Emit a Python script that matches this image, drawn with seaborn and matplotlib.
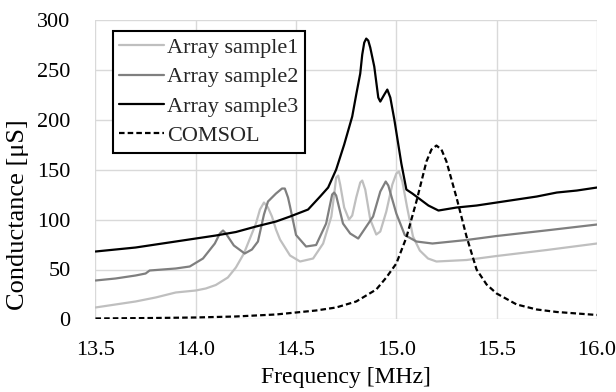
import numpy as np
import pandas as pd
import matplotlib
matplotlib.use("Agg")
import matplotlib.pyplot as plt
import seaborn as sns

# values
f1 = [13.5, 13.6, 13.7, 13.8, 13.9, 14.0, 14.05, 14.1, 14.16, 14.2, 14.24, 14.3, 14.32, 14.34,
      14.36, 14.38, 14.4, 14.42, 14.47, 14.52, 14.585, 14.635, 14.676, 14.69, 14.7, 14.71, 14.72,
      14.74, 14.764, 14.78, 14.8, 14.82, 14.83, 14.845, 14.87, 14.9, 14.92, 14.95, 14.98, 15.0,
      15.013, 15.03, 15.053, 15.083, 15.117, 15.158, 15.2, 15.35, 15.5, 15.75, 16.0]
g1 = [12, 15, 18, 22, 27, 29, 31, 34.5, 42, 52, 66, 96, 110, 117,
      112, 103, 90, 80, 64, 58, 61, 76, 103, 125, 142, 144, 135,
      112, 100, 104, 122, 137, 139, 130, 100, 85, 88, 108, 135, 146,
      148, 138, 113, 83, 69, 61, 58, 59.5, 63.5, 69.5, 76]

f2 = [13.5, 13.6, 13.7, 13.75, 13.77, 13.9, 13.97, 14.036, 14.095, 14.12, 14.136, 14.15, 14.19,
      14.244, 14.28, 14.31, 14.34, 14.36, 14.4, 14.43, 14.444, 14.46, 14.47, 14.5, 14.55, 14.6,
      14.65, 14.68, 14.69, 14.7, 14.734, 14.77, 14.81, 14.884, 14.92, 14.947, 14.96, 14.98, 15.0,
      15.042, 15.1, 15.18, 15.35, 15.5, 15.765, 16.0]
g2 = [39, 41, 44, 46, 49, 51, 53, 61, 76, 86, 89, 86, 74,
      66, 70, 78, 105, 118, 126, 131, 131, 122, 113, 84.5, 73, 74.5,
      96, 125, 127, 124, 96, 86, 81, 103, 128, 138, 134, 120, 106,
      84.5, 78, 76, 79.5, 83.5, 89.5, 95]

f3 = [13.5, 13.6, 13.7, 13.8, 13.9, 14.0, 14.1, 14.2, 14.3, 14.4, 14.47, 14.56, 14.62, 14.66,
      14.7, 14.74, 14.78, 14.8, 14.82, 14.83, 14.84, 14.85, 14.86, 14.87, 14.89, 14.91, 14.92,
      14.94, 14.955, 14.97, 14.99, 15.025, 15.05, 15.08, 15.12, 15.16, 15.21, 15.3, 15.4, 15.5,
      15.6, 15.7, 15.8, 15.9, 16.0]
g3 = [68, 70, 72, 75, 78, 81, 84, 87.5, 93, 98, 103, 110, 123, 132,
      150, 175, 203, 225, 246, 265, 277, 281, 279, 272, 253, 222, 218,
      225, 230, 222, 200, 156, 130, 126, 120, 114, 109, 112, 114, 117,
      120, 123, 127, 129, 132]

f4 = [13.5, 13.8, 14.0, 14.2, 14.4, 14.5, 14.6, 14.7, 14.8, 14.9, 14.95, 15.0, 15.05, 15.1,
      15.15, 15.175, 15.2, 15.225, 15.25, 15.3, 15.35, 15.4, 15.45, 15.5, 15.6, 15.7, 15.8,
      15.9, 16.0]
g4 = [1, 1.5, 2, 3, 5, 7, 9, 12, 18, 30, 42, 56, 82, 118,
      158, 170, 174, 170, 158, 122, 83, 50, 35, 26, 15, 10, 7.5,
      6, 4.5]

names = ["Array sample1", "Array sample2", "Array sample3", "COMSOL"]

df = pd.concat([
    pd.DataFrame({"Frequency": f1, "Conductance": g1, "series": names[0]}),
    pd.DataFrame({"Frequency": f2, "Conductance": g2, "series": names[1]}),
    pd.DataFrame({"Frequency": f3, "Conductance": g3, "series": names[2]}),
    pd.DataFrame({"Frequency": f4, "Conductance": g4, "series": names[3]}),
], ignore_index=True)

sns.set_theme(style="whitegrid")
plt.rcParams["font.family"] = ["Liberation Serif", "DejaVu Serif"]

fig = plt.figure(figsize=(6.16, 3.92), dpi=100)
ax = fig.add_axes([0.155, 0.185, 0.814, 0.765])

pal = {names[0]: "#bfbfbf", names[1]: "#7f7f7f", names[2]: "#000000", names[3]: "#000000"}
dsh = {names[0]: "", names[1]: "", names[2]: "", names[3]: (2.5, 1.4)}
sns.lineplot(data=df, x="Frequency", y="Conductance", hue="series", style="series",
             palette=pal, dashes=dsh, estimator=None, linewidth=1.6, ax=ax)

ax.set_xlim(13.5, 16.0)
ax.set_ylim(0, 300)
ax.set_xticks(np.arange(13.5, 16.01, 0.5))
ax.set_xticklabels([f"{v:.1f}" for v in np.arange(13.5, 16.01, 0.5)])
ax.set_yticks(range(0, 301, 50))
ax.grid(True, color="#d9d9d9", linewidth=1.0)
for s in ax.spines.values():
    s.set_visible(False)
ax.tick_params(axis="both", length=0, labelsize=16, colors="#000000")
ax.tick_params(axis="x", pad=15.5)
ax.tick_params(axis="y", pad=18)
ax.set_xlabel("Frequency [MHz]", fontsize=17, color="#000000", labelpad=5)
ax.set_ylabel("Conductance [μS]", fontsize=19, color="#000000")
ax.yaxis.set_label_coords(-0.133, 0.35)

leg = ax.legend(loc="upper left", bbox_to_anchor=(0.034, 0.963), borderaxespad=0,
                fontsize=16, frameon=True, fancybox=False, handlelength=2.0,
                handletextpad=0.15, labelspacing=0.4, borderpad=0.3)
leg.get_frame().set_edgecolor("#000000")
leg.get_frame().set_linewidth(1.5)
leg.get_frame().set_alpha(1)

fig.savefig("out.png", dpi=100)
